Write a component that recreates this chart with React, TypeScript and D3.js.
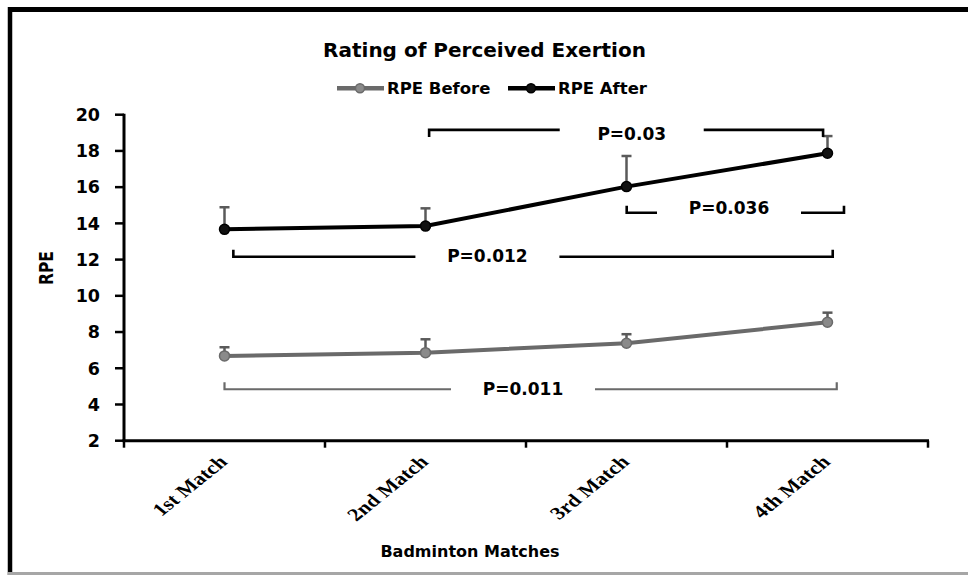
import React from "react";
import * as d3 from "d3";

const matches = ["1st Match", "2nd Match", "3rd Match", "4th Match"];
const rpeBefore = [6.68, 6.86, 7.38, 8.54];
const rpeBeforeSd = [0.48, 0.74, 0.5, 0.53];
const rpeAfter = [13.67, 13.85, 16.03, 17.87];
const rpeAfterSd = [1.22, 0.98, 1.69, 0.95];
const yTicks = [2, 4, 6, 8, 10, 12, 14, 16, 18, 20];

// significance brackets, in match-index units (0 = 1st match) and RPE units
const bracketLabels = ["P=0.03", "P=0.036", "P=0.012", "P=0.011"];
const bracketFrom = [1.018, 2.001, 0.044, 0.0];
const bracketTo = [2.978, 3.082, 3.026, 3.046];
const bracketLevel = [19.16, 14.59, 12.16, 4.84];
const bracketLabelAt = [2.026, 2.51, 1.308, 1.485];
const bracketLabelLevel = [18.93, 14.83, 12.23, 4.84];
const bracketTickDir = [1, -1, -1, -1]; // 1 = ticks point down
const bracketSeries = ["after", "after", "after", "before"];

const W = 968;
const H = 575;
const sans = "'DejaVu Sans', Verdana, sans-serif";

export default function App() {
  const x = d3.scaleLinear().domain([-0.5, 3.5]).range([124, 928]);
  const y = d3.scaleLinear().domain([2, 20]).range([440.7, 114.7]);

  const line = d3
    .line<number>()
    .x((_, i) => x(i))
    .y((d) => y(d));

  const grey = "#6a6a6a";
  const errCol = "#5a5a5a";

  const series = [
    { key: "before", name: "RPE Before", vals: rpeBefore, sd: rpeBeforeSd, color: grey, fill: "#8a8a8a" },
    { key: "after", name: "RPE After", vals: rpeAfter, sd: rpeAfterSd, color: "#000", fill: "#111" },
  ];

  const boundaries = d3.range(0, matches.length + 1).map((i) => i - 0.5);

  return (
    <svg
      width={W}
      height={H}
      style={{ position: "absolute", left: 0, top: 0, display: "block", background: "#fff" }}
    >
      {/* frame */}
      <line x1={10} y1={9.5} x2={W} y2={9.5} stroke="#000" strokeWidth={5} />
      <line x1={10} y1={7} x2={10} y2={H} stroke="#000" strokeWidth={4.5} />
      <line x1={8} y1={573.5} x2={W} y2={573.5} stroke="#a6a6a6" strokeWidth={3} />

      <text x={484.5} y={57} textAnchor="middle" fontFamily={sans} fontWeight="bold" fontSize={20}>
        Rating of Perceived Exertion
      </text>

      {/* legend */}
      {series.map((s, k) => {
        const lx = k === 0 ? 337 : 508;
        return (
          <g key={s.key}>
            <line x1={lx} x2={lx + 47} y1={88.3} y2={88.3} stroke={s.color} strokeWidth={4.5} />
            <circle cx={lx + 23} cy={88.3} r={4.5} fill={s.fill} stroke={s.color} strokeWidth={1.5} />
            <text x={lx + 50} y={94.3} fontFamily={sans} fontWeight="bold" fontSize={16.5}>
              {s.name}
            </text>
          </g>
        );
      })}

      {/* y axis */}
      <line x1={124} x2={124} y1={y(20) - 1} y2={y(2)} stroke="#000" strokeWidth={3} />
      {yTicks.map((t) => (
        <g key={t}>
          <line x1={115} x2={124} y1={y(t)} y2={y(t)} stroke="#000" strokeWidth={2.5} />
          <text
            x={100}
            y={y(t)}
            dy="0.36em"
            textAnchor="end"
            fontFamily={sans}
            fontWeight="bold"
            fontSize={17.5}
          >
            {t}
          </text>
        </g>
      ))}
      <text
        transform={`translate(46,268) scale(1.2,1) rotate(-90)`}
        textAnchor="middle"
        dy="0.36em"
        fontFamily={sans}
        fontWeight="bold"
        fontSize={15.5}
      >
        RPE
      </text>

      {/* x axis */}
      <line x1={122.5} x2={929} y1={y(2)} y2={y(2)} stroke="#000" strokeWidth={3} />
      {boundaries.map((b) => (
        <line key={b} x1={x(b)} x2={x(b)} y1={y(2)} y2={y(2) + 7} stroke="#000" strokeWidth={2.5} />
      ))}
      {matches.map((m, i) => (
        <text
          key={m}
          transform={`translate(${x(i) + 4},463) scale(1.24,1) rotate(-45)`}
          textAnchor="end"
          fontFamily="'Liberation Serif', 'Times New Roman', serif"
          fontWeight="bold"
          fontSize={18}
        >
          {m}
        </text>
      ))}
      <text x={470} y={557} textAnchor="middle" fontFamily={sans} fontWeight="bold" fontSize={16}>
        Badminton Matches
      </text>

      {/* error bars */}
      {series.map((s) =>
        s.vals.map((v, i) => (
          <g key={s.key + i} stroke={errCol} strokeWidth={2.5}>
            <line x1={x(i)} x2={x(i)} y1={y(v)} y2={y(v + s.sd[i])} />
            <line x1={x(i) - 5} x2={x(i) + 5} y1={y(v + s.sd[i])} y2={y(v + s.sd[i])} />
          </g>
        ))
      )}

      {/* lines and markers */}
      {series.map((s) => (
        <g key={s.key}>
          <path d={line(s.vals) || ""} fill="none" stroke={s.color} strokeWidth={4} />
          {s.vals.map((v, i) => (
            <circle key={i} cx={x(i)} cy={y(v)} r={5} fill={s.fill} stroke={s.color} strokeWidth={1.5} />
          ))}
        </g>
      ))}

      {/* significance brackets */}
      {bracketLabels.map((lab, k) => {
        const col = bracketSeries[k] === "before" ? grey : "#000";
        const x1 = x(bracketFrom[k]);
        const x2 = x(bracketTo[k]);
        const yy = y(bracketLevel[k]);
        const cx = x(bracketLabelAt[k]);
        const gap = 72;
        const tick = 7 * bracketTickDir[k];
        const sw = bracketSeries[k] === "before" ? 2.2 : 2.6;
        return (
          <g key={lab}>
            <path
              d={`M${x1},${yy + tick}V${yy}H${cx - gap}`}
              fill="none"
              stroke={col}
              strokeWidth={sw}
            />
            <path
              d={`M${cx + gap},${yy}H${x2}V${yy + tick}`}
              fill="none"
              stroke={col}
              strokeWidth={sw}
            />
            <text
              x={cx}
              y={y(bracketLabelLevel[k])}
              dy="0.36em"
              textAnchor="middle"
              fontFamily={sans}
              fontWeight="bold"
              fontSize={17}
            >
              {lab}
            </text>
          </g>
        );
      })}
    </svg>
  );
}
